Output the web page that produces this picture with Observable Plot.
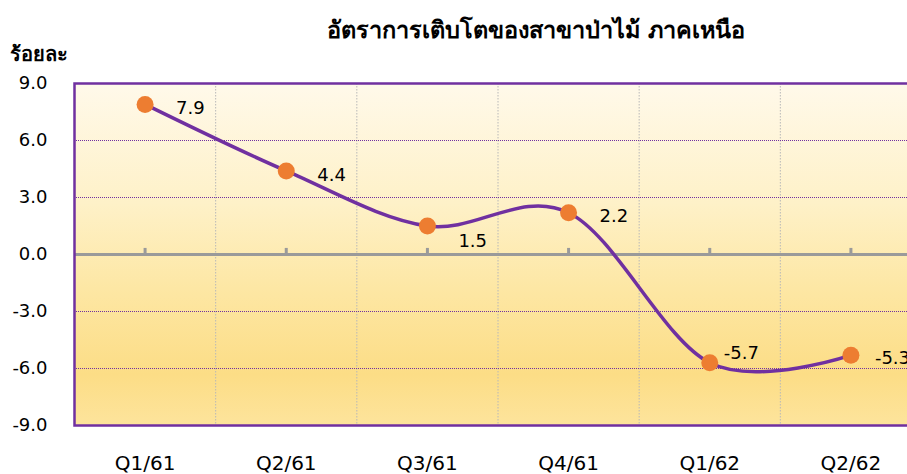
<!DOCTYPE html>
<html><head><meta charset="utf-8">
<script src="https://cdn.jsdelivr.net/npm/d3@7"></script>
<script src="https://cdn.jsdelivr.net/npm/@observablehq/plot@0.6"></script>
<style>
body{margin:0;background:#fff;overflow:hidden;}
#wrap{position:relative;width:907px;height:474px;overflow:hidden;}
#title{position:absolute;top:11px;left:536px;transform:translateX(-50%);white-space:nowrap;font:bold 23.5px Tahoma,'DejaVu Sans','Noto Sans',sans-serif;color:#000;}
#ylab{position:absolute;top:38px;left:10px;white-space:nowrap;font:bold 20px Tahoma,'DejaVu Sans','Noto Sans',sans-serif;color:#000;}
#chart{position:absolute;top:0;left:0;}
</style></head>
<body>
<div id="wrap">
  <div id="chart"></div>
  <div id="title">อัตราการเติบโตของสาขาป่าไม้ ภาคเหนือ</div>
  <div id="ylab">ร้อยละ</div>
</div>
<script>
const categories = ["Q1/61","Q2/61","Q3/61","Q4/61","Q1/62","Q2/62"];
const values = [7.9, 4.4, 1.5, 2.2, -5.7, -5.3];
const yTicks = [-9, -6, -3, 0, 3, 6, 9];

const data = categories.map((c, i) => ({i, c, v: values[i]}));
const idx = d3.range(categories.length);
const bounds = d3.range(1, categories.length).map(i => i - 0.5);

const defs = () => {
  const d = d3.create("svg:defs");
  const g = d.append("linearGradient").attr("id", "bg").attr("x1", 0).attr("y1", 0).attr("x2", 0).attr("y2", 1);
  [[0, "#FFF9EA"], [0.35, "#FEF1C8"], [0.6, "#FDE7A4"], [0.85, "#FCDD86"], [1, "#FDE49C"]]
    .forEach(([o, c]) => g.append("stop").attr("offset", o).attr("stop-color", c));
  return d.node();
};

const font = "Tahoma, 'DejaVu Sans', 'Noto Sans', sans-serif";
const lbl = (filter, dx, dy) => Plot.text(data, {filter, x: "i", y: "v", text: d => d.v.toFixed(1),
  textAnchor: "start", dx, dy, fontSize: 18, fill: "#000"});

const plot = Plot.plot({
  width: 907, height: 474,
  marginLeft: 74, marginRight: -14, marginTop: 83, marginBottom: 49,
  style: {fontSize: "18px", fontFamily: font, color: "#000", background: "transparent", overflow: "hidden"},
  x: {domain: [-0.5, categories.length - 0.5], ticks: idx, tickFormat: i => categories[i], tickSize: 0, tickPadding: 30, label: null},
  y: {domain: [-9, 9], ticks: yTicks, tickFormat: d => d.toFixed(1), tickSize: 0, tickPadding: 27, label: null},
  marks: [
    defs,
    Plot.frame({fill: "url(#bg)", stroke: "none"}),
    Plot.ruleX(bounds, {stroke: "#B8B8B8", strokeWidth: 1, strokeDasharray: "1.5,1.5"}),
    Plot.ruleY(yTicks.filter(v => v !== 0 && Math.abs(v) !== 9), {stroke: "#7030A0", strokeWidth: 1, strokeDasharray: "1,1"}),
    Plot.ruleY([0], {stroke: "#9A9A9A", strokeWidth: 3}),
    Plot.ruleX(idx, {y1: 0, y2: 0.32, stroke: "#9A9A9A", strokeWidth: 3}),
    Plot.line(data, {x: "i", y: "v", curve: "cardinal", stroke: "#7030A0", strokeWidth: 3.5}),
    Plot.dot(data, {x: "i", y: "v", r: 8.5, fill: "#ED7D31", stroke: "none"}),
    lbl(d => d.i === 0 || d.i === 1 || d.i === 3, 31, 4),
    lbl(d => d.i === 2, 31, 15),
    lbl(d => d.i === 4, 14, -10),
    lbl(d => d.i === 5, 24, 3),
    Plot.frame({stroke: "#7030A0", strokeWidth: 2.5, fill: "none"})
  ]
});
document.getElementById("chart").append(plot);
d3.select(plot).selectAll("[aria-label='x-axis tick label'] text, g[aria-label='x-axis'] text").style("font-size", "20px");
</script>
</body></html>
